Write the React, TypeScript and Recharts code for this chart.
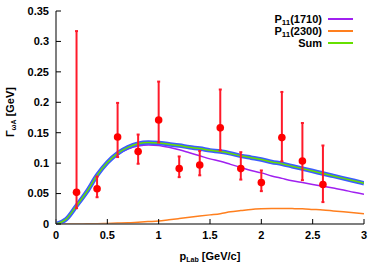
import React from 'react';
import { ComposedChart, Line, Scatter, XAxis, YAxis, ErrorBar, Legend, Label } from 'recharts';

const xGrid = [0, 0.1, 0.2, 0.3, 0.4, 0.5, 0.6, 0.7, 0.8, 0.9, 1.0, 1.1, 1.2, 1.3, 1.4, 1.5, 1.6, 1.7, 1.8, 1.9, 2.0, 2.1, 2.2, 2.3, 2.4, 2.5, 2.6, 2.7, 2.8, 2.9, 3.0];
const p1710 = [0, 0.008, 0.030, 0.053, 0.079, 0.100, 0.114, 0.123, 0.128, 0.130, 0.129, 0.126, 0.122, 0.117, 0.112, 0.107, 0.103, 0.098, 0.093, 0.088, 0.084, 0.079, 0.075, 0.071, 0.068, 0.065, 0.062, 0.059, 0.056, 0.052, 0.049];
const p2300 = [0, 0, 0, 0.0003, 0.0005, 0.001, 0.0015, 0.002, 0.003, 0.004, 0.005, 0.007, 0.009, 0.011, 0.013, 0.015, 0.017, 0.020, 0.022, 0.024, 0.025, 0.0255, 0.0255, 0.0253, 0.025, 0.024, 0.023, 0.0215, 0.020, 0.0185, 0.017];
const sumVals = [0, 0.008, 0.030, 0.053, 0.080, 0.101, 0.116, 0.126, 0.132, 0.134, 0.133, 0.131, 0.129, 0.126, 0.124, 0.121, 0.119, 0.116, 0.112, 0.109, 0.106, 0.102, 0.099, 0.095, 0.091, 0.087, 0.083, 0.079, 0.075, 0.071, 0.067];

const pLab = [0.2, 0.4, 0.6, 0.8, 1.0, 1.2, 1.4, 1.6, 1.8, 2.0, 2.2, 2.4, 2.6];
const gamma = [0.052, 0.058, 0.143, 0.119, 0.171, 0.091, 0.097, 0.158, 0.091, 0.068, 0.142, 0.1035, 0.065];
const errMinus = [0.026, 0.014, 0.033, 0.020, 0.037, 0.014, 0.017, 0.037, 0.018, 0.014, 0.039, 0.0315, 0.029];
const errPlus = [0.265, 0.020, 0.056, 0.028, 0.063, 0.020, 0.023, 0.063, 0.027, 0.020, 0.075, 0.0625, 0.064];

const xTicks = [0, 0.5, 1, 1.5, 2, 2.5, 3];
const yTicks = [0, 0.05, 0.1, 0.15, 0.2, 0.25, 0.3, 0.35];

const legendItems = [
  { base: 'P', sub: '11', rest: '(1710)', color: '#a020f0' },
  { base: 'P', sub: '11', rest: '(2300)', color: '#ff7f1e' },
  { base: 'Sum', sub: '', rest: '', color: '#66e000' },
];

const curve = (vals: number[]) => xGrid.map((x, i) => ({ x, v: vals[i] }));
const points = pLab.map((x, i) => ({ x, y: gamma[i], err: [errMinus[i], errPlus[i]] }));

const FONT = '"Liberation Sans", Arial, sans-serif';

const LegendContent = () => (
  <div style={{ fontFamily: FONT, fontWeight: 'bold', fontSize: 11, color: '#000' }}>
    {legendItems.map((it, i) => (
      <div key={i} style={{ display: 'flex', alignItems: 'center', justifyContent: 'flex-end', height: 12 }}>
        <span style={{ lineHeight: '12px' }}>
          {it.base}
          {it.sub && <sub style={{ fontSize: 8, lineHeight: 0, verticalAlign: -2 }}>{it.sub}</sub>}
          {it.rest}
        </span>
        <div style={{ width: 25, height: 2, backgroundColor: it.color, marginLeft: 6 }} />
      </div>
    ))}
  </div>
);

const YLabel = (props: any) => {
  const cx = 10;
  const cy = 112;
  return (
    <text x={cx} y={cy} transform={`rotate(-90, ${cx}, ${cy})`} textAnchor="middle" dominantBaseline="central"
      style={{ fontFamily: FONT, fontWeight: 'bold', fontSize: 11 }} fill="#000">
      <tspan>Γ</tspan>
      <tspan fontSize={7} dy={3}>ωA</tspan>
      <tspan dy={-3}> [GeV]</tspan>
    </text>
  );
};

const XLabel = (props: any) => {
  const cx = 210;
  const cy = 256;
  return (
    <text x={cx} y={cy} textAnchor="middle" dominantBaseline="central"
      style={{ fontFamily: FONT, fontWeight: 'bold', fontSize: 11 }} fill="#000">
      <tspan>p</tspan>
      <tspan fontSize={7} dy={3}>Lab</tspan>
      <tspan dy={-3}> [GeV/c]</tspan>
    </text>
  );
};

const dot = (props: any) => <circle cx={props.cx} cy={props.cy} r={3.8} fill="#ff0000" />;

export default function App() {
  const tickStyle = { fontFamily: FONT, fontWeight: 'bold' as const, fontSize: 11, fill: '#000' };
  return (
    <div style={{ position: 'absolute', left: 0, top: 0 }}>
      <ComposedChart width={381} height={275} margin={{ top: 11, right: 17, bottom: 0, left: 0 }}>
        <XAxis xAxisId={0} dataKey="x" type="number" domain={[0, 3]} ticks={xTicks} orientation="bottom"
          height={51} tickSize={-5} tickMargin={12} tick={tickStyle} stroke="#000" allowDataOverflow
          tickLine={{ stroke: '#000' }} axisLine={{ stroke: '#555', strokeWidth: 1.5 }}>
          <Label content={<XLabel />} />
        </XAxis>
        <XAxis xAxisId="top" dataKey="x" type="number" domain={[0, 3]} ticks={xTicks} orientation="top"
          height={0} tickSize={-5} tick={false} allowDataOverflow
          tickLine={{ stroke: '#000' }} axisLine={{ stroke: '#000' }} />
        <YAxis yAxisId={0} type="number" domain={[0, 0.35]} ticks={yTicks} orientation="left" width={56}
          tickSize={-5} tickMargin={12} tick={tickStyle} allowDataOverflow
          tickLine={{ stroke: '#000' }} axisLine={{ stroke: '#555', strokeWidth: 1.5 }}>
          <Label content={<YLabel />} />
        </YAxis>
        <YAxis yAxisId="right" type="number" domain={[0, 0.35]} ticks={yTicks} orientation="right" width={0}
          tickSize={-5} tick={false} allowDataOverflow
          tickLine={{ stroke: '#000' }} axisLine={{ stroke: '#000' }} />
        <Legend layout="vertical" align="center" verticalAlign="middle" content={<LegendContent />}
          wrapperStyle={{ top: 13, right: 28, left: 'auto', bottom: 'auto', width: 'auto' }} />
        <Line data={curve(p1710)} dataKey="v" type="monotone" stroke="#a020f0" strokeWidth={1.5} dot={false}
          isAnimationActive={false} legendType="none" />
        <Line data={curve(p2300)} dataKey="v" type="monotone" stroke="#ff7f1e" strokeWidth={1.5} dot={false}
          isAnimationActive={false} legendType="none" />
        <Line data={curve(sumVals)} dataKey="v" type="monotone" stroke="#3c5cff" strokeWidth={4.5} dot={false}
          isAnimationActive={false} legendType="none" />
        <Line data={curve(sumVals)} dataKey="v" type="monotone" stroke="#66e000" strokeWidth={1.5} dot={false}
          isAnimationActive={false} legendType="none" />
        <Scatter data={points} dataKey="y" fill="#ff0000" shape={dot} isAnimationActive={false} legendType="none">
          <ErrorBar dataKey="err" direction="y" width={1.5} stroke="#ff1a2a" strokeWidth={2} isAnimationActive={false} />
        </Scatter>
      </ComposedChart>
    </div>
  );
}
